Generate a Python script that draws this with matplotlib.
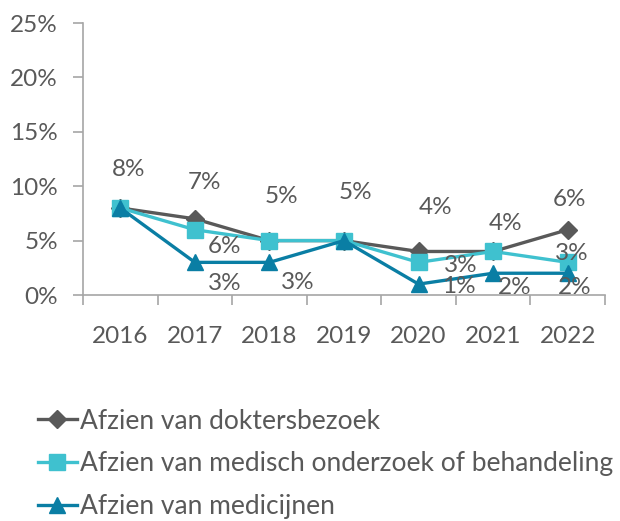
import numpy as np
import matplotlib.pyplot as plt

jaren = ['2016', '2017', '2018', '2019', '2020', '2021', '2022']
dokter = [8, 7, 5, 5, 4, 4, 6]
onderzoek = [8, 6, 5, 5, 3, 4, 3]
medicijnen = [8, 3, 3, 5, 1, 2, 2]

namen = ['Afzien van doktersbezoek',
         'Afzien van medisch onderzoek of behandeling',
         'Afzien van medicijnen']

# label offsets in pixels (None = no label shown)
off_dokter = [(8, 38), (10, 36), (12, 44), (11, 48), (17, 44), (12, 28), (2, 30)]
off_onderzoek = [None, (30, -17), None, None, (42, -3), None, (4, 9)]
off_medicijnen = [None, (30, -21), (28, -20), None, (40, -2), (22, -14), (7, -14)]

plt.rcParams['font.family'] = ['Lato', 'DejaVu Sans']
tekst = '#595959'
as_kleur = '#A6A6A6'

fig = plt.figure(figsize=(6.2, 5.21), dpi=100)
ax = fig.add_axes([83/620, 1-295/521, 522/620, 272/521])

x = np.arange(len(jaren))
reeksen = [
    (dokter, '#595959', 'D', 9, off_dokter),
    (onderzoek, '#3FC1CF', 's', 11, off_onderzoek),
    (medicijnen, '#0A7EA4', '^', 11, off_medicijnen),
]
for (waarden, kleur, mk, ms, offs), naam in zip(reeksen, namen):
    ax.plot(x, waarden, color=kleur, lw=2.4, marker=mk, markersize=ms,
            label=naam, clip_on=False)
for (waarden, kleur, mk, ms, offs) in reeksen:
    for i, v in enumerate(waarden):
        if offs[i] is None:
            continue
        ax.annotate(f'{v}%', (x[i], v), xytext=offs[i], textcoords='offset pixels',
                    ha='center', va='center', fontsize=17.5, color=tekst)

ax.set_xlim(-0.5, len(jaren) - 0.5)
ax.set_ylim(0, 25)
ax.set_yticks([0, 5, 10, 15, 20, 25])
ax.set_yticklabels([f'{t}%' for t in [0, 5, 10, 15, 20, 25]])
ax.set_xticks(x)
ax.set_xticklabels(jaren)
ax.set_xticks(np.arange(len(jaren) + 1) - 0.5, minor=True)

for s in ['top', 'right']:
    ax.spines[s].set_visible(False)
for s in ['left', 'bottom']:
    ax.spines[s].set_color(as_kleur)
    ax.spines[s].set_linewidth(1.2)

ax.tick_params(axis='x', which='major', length=0, pad=22, labelsize=17.5, labelcolor=tekst)
ax.tick_params(axis='x', which='minor', length=7, width=1.2, color=as_kleur)
ax.tick_params(axis='y', length=7, width=1.2, color=as_kleur, pad=11,
               labelsize=17.5, labelcolor=tekst)

fig.legend(loc='upper left', bbox_to_anchor=(27/620, 1-398/521), frameon=False,
           fontsize=19, labelcolor=tekst, handlelength=1.5, handletextpad=0.12,
           labelspacing=0.68, borderaxespad=0)

fig.savefig('out.png', dpi=100)
